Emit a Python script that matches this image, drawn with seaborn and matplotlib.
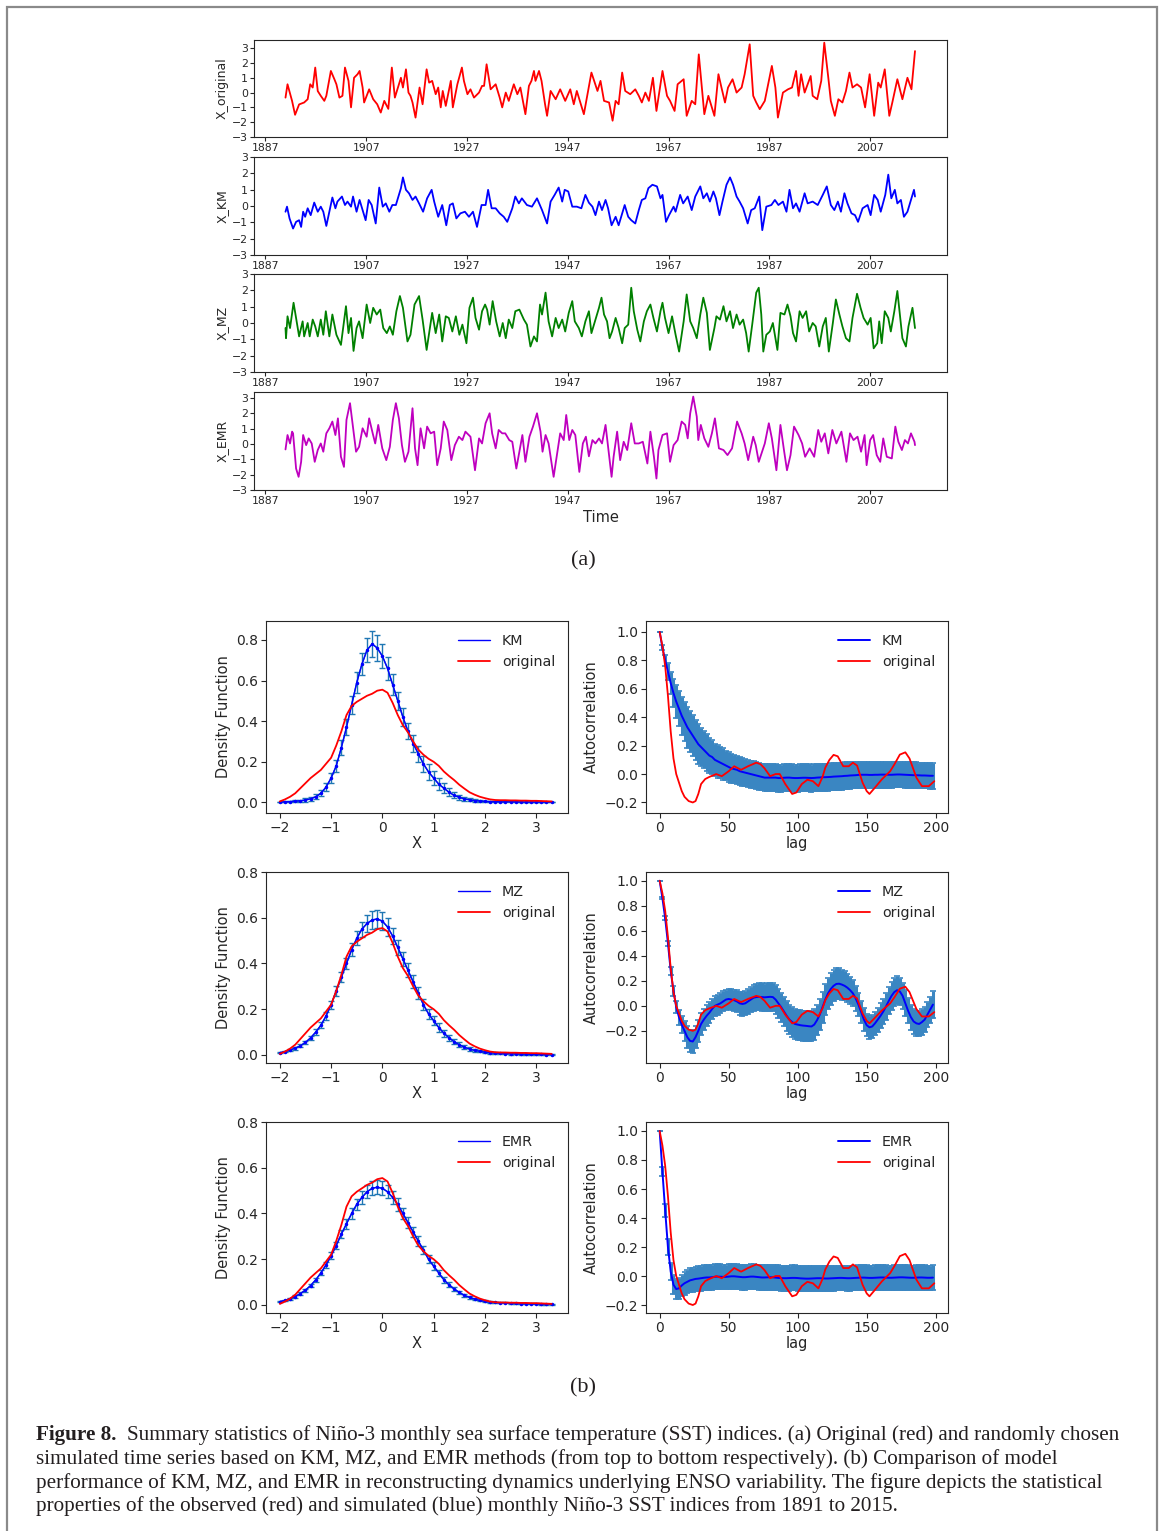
import matplotlib
matplotlib.use("Agg")
import matplotlib.pyplot as plt
from matplotlib.patches import Rectangle
import seaborn as sns

# ---------------------------------------------------------------
# (a) time series (year, value) vertices
# ---------------------------------------------------------------
orig_t = [1891.0, 1891.4, 1892.3, 1892.9, 1893.7, 1894.7, 1895.4, 1895.9, 1896.4, 1896.9,
          1897.4, 1898.0, 1898.7, 1899.1, 1900.0, 1900.7, 1901.1, 1901.7, 1902.3, 1902.8,
          1903.5, 1904.0, 1904.6, 1905.3, 1905.7, 1906.3, 1906.6, 1907.6, 1908.4, 1909.2,
          1909.9, 1910.6, 1911.4, 1912.1, 1912.7, 1913.9, 1914.3, 1914.9, 1915.4, 1915.8,
          1916.2, 1916.8, 1917.6, 1918.2, 1919.0, 1919.5, 1920.1, 1920.8, 1921.3, 1921.8,
          1922.2, 1922.8, 1923.8, 1924.2, 1925.1, 1926.0, 1926.4, 1927.1, 1927.7, 1928.4,
          1929.4, 1930.0, 1930.4, 1930.9, 1931.7, 1932.7, 1933.5, 1934.0, 1934.7, 1935.3,
          1936.3, 1937.0, 1937.6, 1938.6, 1939.3, 1939.8, 1940.3, 1940.6, 1941.3, 1941.8,
          1942.5, 1942.9, 1943.6, 1944.6, 1945.5, 1946.5, 1947.5, 1948.2, 1948.8, 1950.2,
          1951.7, 1952.9, 1953.5, 1954.2, 1955.2, 1955.9, 1956.5, 1957.1, 1957.8, 1958.4,
          1959.4, 1960.4, 1961.1, 1961.7, 1962.4, 1963.1, 1963.9, 1964.6, 1965.8, 1966.7,
          1967.3, 1968.2, 1968.8, 1970.0, 1970.6, 1971.6, 1972.3, 1973.0, 1973.6, 1974.1,
          1974.9, 1976.1, 1976.9, 1977.5, 1978.2, 1978.8, 1979.7, 1980.5, 1981.5, 1982.1,
          1983.1, 1983.8, 1984.4, 1985.1, 1986.1, 1987.1, 1987.5, 1988.2, 1988.7, 1989.7,
          1990.7, 1991.5, 1992.3, 1992.8, 1993.3, 1994.0, 1995.2, 1995.6, 1996.5, 1997.3,
          1997.9, 1998.7, 1999.2, 2000.0, 2000.7, 2001.5, 2002.2, 2002.9, 2003.5, 2004.4,
          2005.2, 2006.0, 2006.9, 2007.8, 2008.6, 2009.1, 2009.9, 2010.8, 2011.4, 2012.4,
          2013.4, 2014.4, 2015.2, 2015.9]
orig_v = [-0.34, 0.56, -0.56, -1.5, -0.8, -0.67, -0.45, 0.56, 0.34, 1.69,
          0.1, -0.22, -0.56, -0.22, 1.46, 0.9, 0.56, -0.34, -0.22, 1.69,
          0.79, -1.0, 1.0, 1.24, 1.46, 0.34, -0.67, 0.22, -0.45, -0.79,
          -1.35, -0.56, -1.1, 1.69, -0.34, 1.0, 0.34, 1.57, 0.0, -0.22,
          -0.67, -1.69, 0.34, -0.79, 1.57, 0.67, 0.79, -0.11, 0.34, -1.0,
          0.11, -0.9, 0.79, -1.0, 0.56, 1.69, 0.79, -0.11, 0.22, -0.34,
          0.0, 0.45, 0.45, 1.91, 0.22, 0.56, -0.34, -1.0, 0.0, -0.56,
          0.56, -0.11, 0.34, -1.46, 0.45, 0.79, 1.46, 0.79, 1.46, 0.79,
          -0.79, -1.57, 0.11, -0.45, 0.22, -0.56, 0.22, -0.79, 0.11, -1.46,
          1.35, 0.11, 0.79, -0.56, -0.67, -1.9, -0.56, -0.79, 1.35, 0.11,
          -0.11, 0.22, -0.22, -0.67, 0.0, -0.56, 1.0, -1.24, 1.46, -0.22,
          -0.56, -1.24, 0.56, 0.9, -1.57, -0.56, -0.79, 2.58, 0.34, -1.46,
          -0.22, -1.57, 1.24, 0.34, -0.67, 0.34, 0.9, 0.0, 0.34, 1.24,
          3.26, -0.22, -0.67, -1.12, -0.56, 1.12, 1.8, 0.34, -1.69, 0.0,
          0.22, 0.34, 1.46, -0.22, 1.24, 0.0, 1.12, -0.22, -0.45, 0.79,
          3.37, 1.0, -0.56, -1.57, -0.45, -0.67, 0.11, 1.35, 0.34, 0.56,
          0.34, -1.0, 1.24, -1.57, 0.67, 0.34, 1.57, -1.57, -0.67, 0.9,
          -0.45, 1.0, 0.22, 2.8]

km_t = [1891.0, 1891.3, 1891.8, 1892.5, 1893.1, 1893.7, 1894.1, 1894.5, 1894.9, 1895.4,
        1896.0, 1896.7, 1897.4, 1898.0, 1898.5, 1899.1, 1899.7, 1900.3, 1900.9, 1901.3,
        1902.2, 1902.8, 1903.3, 1904.0, 1904.4, 1905.1, 1905.7, 1906.3, 1906.9, 1907.5,
        1908.1, 1908.9, 1909.6, 1910.3, 1910.9, 1911.6, 1912.2, 1912.9, 1913.9, 1914.3,
        1914.9, 1915.5, 1916.2, 1916.8, 1917.5, 1918.3, 1919.1, 1920.0, 1920.5, 1921.3,
        1922.1, 1922.9, 1923.6, 1924.2, 1924.9, 1925.7, 1926.6, 1927.4, 1928.2, 1929.0,
        1929.9, 1930.7, 1931.2, 1931.9, 1932.7, 1933.5, 1934.3, 1935.0, 1936.0, 1936.6,
        1937.3, 1937.9, 1938.9, 1939.9, 1940.9, 1941.9, 1942.9, 1943.6, 1944.4, 1945.2,
        1945.9, 1946.4, 1947.1, 1947.9, 1948.8, 1949.7, 1950.5, 1951.2, 1951.9, 1952.5,
        1953.2, 1953.8, 1954.5, 1955.0, 1955.7, 1956.5, 1957.1, 1958.3, 1959.0, 1959.6,
        1960.4, 1961.1, 1961.7, 1962.4, 1963.0, 1963.8, 1964.7, 1965.4, 1965.8, 1966.5,
        1967.1, 1968.0, 1968.4, 1969.3, 1969.9, 1970.8, 1971.6, 1972.3, 1973.3, 1973.9,
        1974.6, 1975.2, 1975.9, 1976.4, 1977.1, 1977.7, 1978.5, 1979.2, 1979.8, 1980.5,
        1981.1, 1981.8, 1982.7, 1983.4, 1984.1, 1985.0, 1985.6, 1986.4, 1987.4, 1988.1,
        1988.8, 1989.7, 1990.4, 1991.0, 1991.7, 1992.3, 1993.0, 1994.0, 1994.6, 1995.6,
        1996.6, 1997.6, 1998.4, 1999.2, 1999.9, 2000.6, 2001.2, 2001.9, 2002.5, 2003.3,
        2004.0, 2004.6, 2005.5, 2006.5, 2007.1, 2007.8, 2008.5, 2009.1, 2010.0, 2010.6,
        2011.2, 2011.9, 2012.4, 2013.1, 2013.7, 2014.4, 2015.0, 2015.7, 2015.9]
km_v = [-0.35, -0.04, -0.76, -1.38, -0.97, -0.87, -1.28, -0.35, -0.66, -0.14,
        -0.56, 0.21, -0.35, -0.04, -0.35, -1.22, -0.35, 0.52, -0.14, 0.27,
        0.58, 0.06, 0.27, -0.04, 0.58, -0.35, 0.37, -0.25, -0.87, 0.37,
        0.06, -1.07, 1.13, -0.04, 0.16, -0.35, 0.06, 0.06, 1.09, 1.75,
        0.99, 0.78, 0.37, 0.58, 0.16, -0.35, 0.47, 0.99, 0.27, -0.66,
        0.06, -1.18, 0.06, 0.16, -0.76, -0.45, -0.35, -0.66, -0.35, -1.28,
        0.06, 0.06, 0.99, -0.14, -0.14, -0.45, -0.66, -0.97, -0.14, 0.58,
        0.16, 0.47, 0.06, -0.04, 0.47, -0.25, -1.07, 0.27, 0.68, 1.13,
        0.27, 0.99, 0.89, -0.04, -0.04, -0.14, 0.68, 0.2, -0.04, -0.56,
        0.27, -0.25, 0.37, -0.14, -1.18, -0.66, -1.18, 0.06, -0.66, -0.87,
        -1.07, -0.25, 0.37, 0.47, 1.09, 1.3, 1.2, 0.47, 0.68, -0.97,
        -0.56, -0.04, -0.35, 0.68, 0.16, 0.58, -0.25, 0.58, 1.2, 0.47,
        0.78, 0.27, 0.89, 0.47, -0.56, 0.27, 1.3, 1.75, 1.3, 0.58,
        0.27, -0.14, -1.07, -0.25, -0.14, 0.58, -1.48, -0.04, 0.06, 0.37,
        0.06, 0.27, -0.35, 0.99, -0.14, 0.16, -0.35, 0.78, 0.16, 0.27,
        0.06, 0.68, 1.2, 0.06, -0.25, 0.27, -0.35, 0.78, 0.16, -0.45,
        -0.56, -0.97, -0.14, 0.06, -0.56, 0.68, 0.37, -0.35, 0.68, 1.92,
        0.47, 0.99, 0.16, 0.37, -0.66, -0.35, 0.27, 0.99, 0.58]

mz_t = [1891.0, 1891.1, 1891.4, 1891.9, 1892.6, 1893.1, 1893.7, 1894.4, 1894.7, 1895.4,
        1895.8, 1896.4, 1896.9, 1897.4, 1898.0, 1898.5, 1899.0, 1899.7, 1900.3, 1901.1,
        1902.0, 1903.0, 1903.5, 1904.0, 1904.5, 1905.1, 1905.6, 1906.3, 1907.1, 1907.8,
        1908.4, 1909.1, 1909.8, 1910.4, 1911.1, 1911.7, 1912.3, 1913.0, 1913.7, 1914.3,
        1915.2, 1915.8, 1916.6, 1917.5, 1918.2, 1919.0, 1919.6, 1920.1, 1920.8, 1921.5,
        1922.1, 1922.8, 1923.4, 1924.1, 1924.8, 1925.5, 1926.1, 1926.9, 1927.5, 1928.2,
        1928.7, 1929.4, 1930.0, 1930.6, 1931.0, 1931.5, 1932.1, 1932.8, 1933.5, 1934.1,
        1934.7, 1935.3, 1936.0, 1936.6, 1937.4, 1938.3, 1938.9, 1939.6, 1940.3, 1940.9,
        1941.5, 1941.9, 1942.6, 1943.2, 1943.9, 1944.6, 1945.2, 1945.9, 1946.5, 1947.2,
        1947.9, 1948.4, 1949.2, 1949.8, 1950.5, 1951.2, 1951.7, 1952.5, 1953.2, 1953.7,
        1954.2, 1954.8, 1955.3, 1955.8, 1956.5, 1957.1, 1957.8, 1958.3, 1959.0, 1959.6,
        1960.1, 1960.8, 1961.4, 1962.1, 1962.7, 1963.4, 1964.0, 1964.7, 1965.4, 1965.8,
        1966.3, 1967.0, 1967.7, 1968.4, 1969.1, 1970.0, 1970.6, 1971.3, 1971.9, 1972.6,
        1973.3, 1973.9, 1974.6, 1975.2, 1976.1, 1976.5, 1977.2, 1977.9, 1978.5, 1979.2,
        1979.8, 1980.5, 1981.1, 1981.8, 1982.4, 1982.9, 1983.6, 1984.4, 1984.9, 1985.4,
        1985.8, 1986.4, 1987.1, 1987.7, 1988.6, 1989.2, 1990.0, 1990.6, 1991.2, 1991.7,
        1992.3, 1993.0, 1993.6, 1994.3, 1994.9, 1995.6, 1996.2, 1996.9, 1997.6, 1998.2,
        1998.8, 1999.6, 2000.2, 2000.9, 2001.5, 2002.2, 2002.9, 2003.5, 2004.4, 2005.1,
        2005.7, 2006.5, 2007.1, 2007.7, 2008.4, 2008.8, 2009.3, 2009.9, 2010.6, 2011.1,
        2011.8, 2012.4, 2012.9, 2013.4, 2014.1, 2014.6, 2015.4, 2015.9]
mz_v = [-0.31, -0.93, 0.41, -0.31, 1.24, 0.31, -0.82, 0.1, -0.82, 0.0,
        -0.82, 0.21, -0.21, -0.82, 0.21, -0.72, 0.72, -0.82, 0.52, -0.72,
        -1.34, 1.03, -0.62, 0.31, -1.71, -0.31, 0.1, -0.93, 1.13, 0.0,
        0.93, 0.52, 0.82, -0.31, -0.62, -0.21, -0.72, 0.72, 1.65, 0.93,
        -1.13, -0.72, 1.13, 1.65, 0.21, -1.65, -0.41, 0.62, -0.62, 0.52,
        -1.13, 0.41, 0.31, -0.52, 0.41, -0.72, -0.1, -1.24, 0.93, 1.55,
        0.31, -0.41, 0.72, 1.13, 0.82, -0.1, 1.34, 0.1, -0.82, 0.0,
        -0.93, 0.21, -0.31, 0.72, 0.82, 0.21, -0.1, -1.44, -0.82, -1.13,
        1.13, 0.52, 1.86, 0.1, -0.82, 0.31, -0.31, 0.21, -0.52, 0.62,
        1.34, 0.1, -0.31, -0.82, 0.1, 0.72, -0.62, 0.21, 0.93, 1.55,
        0.52, 0.1, -0.93, -0.52, 0.31, -0.31, -1.24, -0.31, -0.1, 2.16,
        0.72, -0.41, -1.13, 0.1, 0.72, 1.13, 0.31, -0.52, 0.72, 1.24,
        0.31, -0.62, 0.41, -0.72, -1.75, 0.1, 1.75, 0.1, -0.31, -0.93,
        0.52, 1.55, 0.62, -1.65, -0.31, 0.41, 0.21, 1.03, 0.1, 0.72,
        -0.31, 0.52, -0.1, 0.21, -0.62, -1.75, -0.1, 1.86, 2.16, 0.52,
        -1.75, -0.72, -0.52, 0.0, -1.65, 0.62, 0.52, 1.13, 0.41, -0.62,
        -1.13, 0.72, 0.31, 0.72, -0.52, 0.0, -0.21, -1.44, -0.21, 0.31,
        -1.75, 0.0, 1.44, 0.52, -0.21, -0.93, -1.13, 0.31, 1.79, 0.93,
        0.31, -0.1, 0.31, -1.55, -1.24, 0.1, -1.24, 0.72, 0.31, -0.52,
        0.72, 1.96, 0.52, -0.93, -1.44, -0.21, 0.93, -0.31]

emr_t = [1891.0, 1891.4, 1891.9, 1892.3, 1892.5, 1893.1, 1893.6, 1894.1, 1894.5, 1895.1,
         1895.6, 1896.2, 1896.8, 1897.4, 1898.0, 1898.5, 1899.1, 1899.7, 1900.3, 1900.9,
         1901.4, 1902.0, 1902.6, 1903.1, 1903.8, 1904.3, 1905.0, 1905.6, 1906.3, 1907.1,
         1907.6, 1908.3, 1908.8, 1909.4, 1910.2, 1911.0, 1911.7, 1912.3, 1912.9, 1913.5,
         1914.1, 1914.7, 1915.4, 1916.2, 1916.7, 1917.2, 1917.8, 1918.5, 1919.1, 1919.8,
         1920.5, 1921.1, 1921.8, 1922.4, 1923.1, 1923.9, 1924.6, 1925.4, 1926.1, 1926.7,
         1927.7, 1928.6, 1929.4, 1930.0, 1930.7, 1931.5, 1932.0, 1932.7, 1933.3, 1934.0,
         1934.6, 1935.4, 1936.0, 1936.8, 1937.4, 1938.0, 1938.6, 1939.4, 1940.1, 1940.9,
         1941.6, 1942.0, 1942.6, 1943.2, 1944.2, 1944.9, 1945.5, 1946.2, 1946.7, 1947.3,
         1947.9, 1948.5, 1949.3, 1950.0, 1950.6, 1951.2, 1951.9, 1952.5, 1953.2, 1953.8,
         1954.5, 1955.0, 1955.7, 1956.1, 1956.8, 1957.4, 1958.1, 1958.8, 1959.6, 1960.3,
         1961.1, 1961.9, 1962.8, 1963.4, 1964.1, 1964.6, 1965.0, 1965.8, 1966.7, 1967.3,
         1968.0, 1968.8, 1969.6, 1970.3, 1970.8, 1971.3, 1971.9, 1972.6, 1972.9, 1973.4,
         1974.1, 1974.9, 1975.6, 1976.2, 1977.0, 1977.9, 1978.7, 1979.6, 1980.6, 1981.5,
         1982.1, 1982.8, 1983.8, 1984.3, 1984.9, 1986.1, 1986.9, 1987.5, 1988.4, 1989.2,
         1989.9, 1990.5, 1991.2, 1991.9, 1992.8, 1993.5, 1994.1, 1995.0, 1995.9, 1996.7,
         1997.3, 1998.0, 1998.7, 1999.5, 2000.3, 2001.3, 2002.3, 2003.0, 2003.7, 2004.5,
         2005.2, 2005.9, 2006.3, 2007.0, 2007.6, 2008.3, 2009.0, 2009.6, 2010.3, 2011.3,
         2012.0, 2012.6, 2013.3, 2013.9, 2014.5, 2015.1, 2015.8, 2015.9]
emr_v = [-0.35, 0.59, 0.04, 0.81, 0.7, -1.6, -2.14, -1.16, 0.59, -0.07,
         0.37, 0.04, -1.16, -0.39, 0.04, -0.5, 0.7, 1.03, 1.47, 0.59,
         1.68, -0.83, -1.49, 1.58, 2.67, 1.36, -0.5, -0.18, 1.03, 0.48,
         1.68, 0.7, 0.04, 1.25, -0.28, -1.05, -0.18, 1.58, 2.67, 1.68,
         -0.07, -1.16, -0.5, 2.34, -0.28, -1.38, 1.03, -0.28, 1.14, 0.7,
         0.81, -1.38, -0.28, 1.47, 0.92, -1.05, -0.07, 0.48, 0.26, 0.81,
         0.48, -1.71, 0.37, 0.04, 1.36, 2.01, 0.7, -0.28, 0.92, 0.7,
         0.7, 0.26, 0.15, -1.6, -0.5, 0.59, -1.16, 0.48, 1.14, 2.01,
         0.81, -0.5, 0.59, 0.04, -2.14, -0.61, 0.7, 0.26, 1.9, 0.26,
         0.92, 0.59, -1.82, 0.04, 0.48, -0.8, 0.26, 0.04, 0.37, 0.04,
         1.25, -0.18, -2.14, -0.83, 0.81, -1.05, 0.15, -0.39, 1.36, 0.04,
         0.04, 0.15, -1.27, 0.81, -0.83, -2.25, -0.39, 0.59, 0.7, -1.16,
         -0.07, 0.26, 1.47, 1.25, 0.37, 2.01, 3.1, 1.79, 0.26, 1.25,
         0.37, -0.18, 0.7, 1.68, -0.28, -0.39, -0.72, -0.28, 1.47, 0.7,
         0.04, -1.05, 0.48, -0.07, -1.16, 0.04, 1.36, 0.37, -1.71, 1.25,
         -0.39, -1.71, -0.72, 1.14, 0.59, 0.04, -0.83, -0.28, -0.83, 0.92,
         0.15, 0.7, -0.61, 0.92, 0.04, 0.81, -1.16, 0.7, 0.26, 0.48,
         -0.5, 0.59, -1.38, 0.26, 0.59, -0.72, -1.16, 0.37, -0.83, -0.94,
         1.14, 0.15, -0.39, 0.26, 0.04, 0.7, 0.15, -0.07]

year_ticks = [1887, 1907, 1927, 1947, 1967, 1987, 2007]
year_labels = ["1887", "1907", "1927", "1947", "1967", "1987", "2007"]

# ---------------------------------------------------------------
# (b) density functions on the X grid
# ---------------------------------------------------------------
dens_x = [-2.0, -1.9, -1.8, -1.7, -1.6, -1.5, -1.4, -1.3, -1.2, -1.1,
          -1.0, -0.9, -0.8, -0.7, -0.6, -0.5, -0.4, -0.3, -0.2, -0.1,
          0.0, 0.1, 0.2, 0.3, 0.4, 0.5, 0.6, 0.7, 0.8, 0.9,
          1.0, 1.1, 1.2, 1.3, 1.4, 1.5, 1.6, 1.7, 1.8, 1.9,
          2.0, 2.1, 2.2, 2.3, 2.4, 2.5, 2.6, 2.7, 2.8, 2.9, 3.0, 3.1, 3.2, 3.3]
dens_orig = [0.005, 0.015, 0.028, 0.045, 0.07, 0.095, 0.12, 0.14, 0.16, 0.19,
             0.22, 0.28, 0.35, 0.43, 0.475, 0.495, 0.51, 0.525, 0.535, 0.55,
             0.555, 0.54, 0.49, 0.43, 0.38, 0.345, 0.30, 0.26, 0.235, 0.215,
             0.2, 0.18, 0.152, 0.13, 0.11, 0.087, 0.068, 0.05, 0.038, 0.028,
             0.021, 0.015, 0.012, 0.011, 0.011, 0.010, 0.010, 0.009, 0.009, 0.008,
             0.008, 0.007, 0.006, 0.005]
dens_km = [0.002, 0.003, 0.004, 0.006, 0.008, 0.012, 0.018, 0.028, 0.045, 0.075,
           0.12, 0.18, 0.27, 0.37, 0.48, 0.59, 0.68, 0.75, 0.78, 0.76,
           0.72, 0.66, 0.58, 0.50, 0.42, 0.35, 0.29, 0.24, 0.19, 0.15,
           0.12, 0.09, 0.07, 0.05, 0.035, 0.025, 0.018, 0.013, 0.009, 0.007,
           0.005, 0.004, 0.004, 0.003, 0.003, 0.003, 0.003, 0.002, 0.002, 0.002,
           0.002, 0.002, 0.002, 0.002]
dens_km_err = [0.002, 0.003, 0.004, 0.005, 0.006, 0.008, 0.01, 0.012, 0.015, 0.02,
               0.025, 0.03, 0.035, 0.04, 0.045, 0.05, 0.055, 0.06, 0.065, 0.065,
               0.06, 0.055, 0.05, 0.045, 0.045, 0.04, 0.04, 0.04, 0.04, 0.04,
               0.035, 0.03, 0.025, 0.02, 0.015, 0.012, 0.01, 0.008, 0.006, 0.005,
               0.004, 0.004, 0.003, 0.003, 0.003, 0.003, 0.002, 0.002, 0.002, 0.002,
               0.002, 0.002, 0.002, 0.002]
dens_mz = [0.01, 0.015, 0.022, 0.03, 0.04, 0.055, 0.075, 0.10, 0.13, 0.17,
           0.22, 0.28, 0.34, 0.40, 0.46, 0.51, 0.55, 0.575, 0.59, 0.595,
           0.585, 0.56, 0.52, 0.47, 0.42, 0.37, 0.32, 0.27, 0.22, 0.18,
           0.15, 0.12, 0.095, 0.075, 0.058, 0.045, 0.034, 0.026, 0.02, 0.016,
           0.012, 0.01, 0.008, 0.007, 0.006, 0.005, 0.005, 0.004, 0.004, 0.003,
           0.003, 0.003, 0.002, 0.002]
dens_mz_err = [0.003, 0.004, 0.005, 0.006, 0.007, 0.008, 0.01, 0.012, 0.014, 0.016,
               0.018, 0.02, 0.022, 0.025, 0.028, 0.03, 0.033, 0.036, 0.038, 0.04,
               0.04, 0.038, 0.036, 0.034, 0.032, 0.03, 0.028, 0.026, 0.024, 0.022,
               0.02, 0.018, 0.016, 0.014, 0.012, 0.01, 0.008, 0.007, 0.006, 0.005,
               0.004, 0.004, 0.003, 0.003, 0.003, 0.003, 0.002, 0.002, 0.002, 0.002,
               0.002, 0.002, 0.002, 0.002]
dens_emr = [0.015, 0.02, 0.028, 0.037, 0.05, 0.065, 0.085, 0.11, 0.14, 0.175,
            0.215, 0.26, 0.31, 0.355, 0.40, 0.44, 0.47, 0.495, 0.51, 0.515,
            0.51, 0.495, 0.47, 0.44, 0.40, 0.36, 0.32, 0.28, 0.24, 0.20,
            0.17, 0.14, 0.11, 0.088, 0.07, 0.055, 0.042, 0.033, 0.026, 0.02,
            0.016, 0.013, 0.011, 0.01, 0.009, 0.008, 0.007, 0.006, 0.006, 0.005,
            0.005, 0.004, 0.004, 0.004]
dens_emr_err = [0.003, 0.003, 0.004, 0.005, 0.006, 0.007, 0.008, 0.01, 0.011, 0.013,
                0.015, 0.017, 0.019, 0.021, 0.023, 0.025, 0.027, 0.028, 0.03, 0.03,
                0.03, 0.029, 0.028, 0.027, 0.026, 0.024, 0.022, 0.021, 0.019, 0.017,
                0.016, 0.014, 0.012, 0.011, 0.009, 0.008, 0.007, 0.006, 0.005, 0.004,
                0.004, 0.003, 0.003, 0.003, 0.002, 0.002, 0.002, 0.002, 0.002, 0.002,
                0.002, 0.002, 0.002, 0.002]

# ---------------------------------------------------------------
# (b) autocorrelation, every second lag
# ---------------------------------------------------------------
acf_lag = list(range(0, 200, 2))
acf_km = [1.00, 0.89, 0.80, 0.72, 0.64, 0.57, 0.51, 0.46, 0.41, 0.37,
          0.33, 0.30, 0.27, 0.24, 0.21, 0.19, 0.17, 0.15, 0.13, 0.12,
          0.10, 0.09, 0.08, 0.07, 0.06, 0.05, 0.04, 0.035, 0.03, 0.02,
          0.015, 0.01, 0.005, 0.0, -0.005, -0.01, -0.015, -0.02, -0.025, -0.025,
          -0.025, -0.025, -0.025, -0.028, -0.028, -0.026, -0.025, -0.025, -0.027, -0.028,
          -0.028, -0.027, -0.026, -0.026, -0.027, -0.028, -0.027, -0.025, -0.024, -0.022,
          -0.022, -0.021, -0.02, -0.018, -0.017, -0.016, -0.015, -0.013, -0.012, -0.01,
          -0.009, -0.008, -0.006, -0.005, -0.005, -0.005, -0.006, -0.006, -0.005, -0.005,
          -0.004, -0.004, -0.004, -0.005, -0.005, -0.004, -0.003, -0.003, -0.004, -0.005,
          -0.006, -0.007, -0.008, -0.008, -0.009, -0.01, -0.01, -0.011, -0.012, -0.012]
acf_km_err = [0.0, 0.02, 0.04, 0.06, 0.08, 0.1, 0.115, 0.125, 0.135, 0.14,
              0.145, 0.145, 0.145, 0.14, 0.14, 0.135, 0.13, 0.13, 0.125, 0.12,
              0.115, 0.115, 0.11, 0.11, 0.105, 0.105, 0.1, 0.1, 0.1, 0.098,
              0.097, 0.096, 0.095, 0.095, 0.094, 0.094, 0.094, 0.094, 0.094, 0.094,
              0.095, 0.095, 0.095, 0.095, 0.095, 0.095, 0.095, 0.095, 0.095, 0.095,
              0.095, 0.095, 0.095, 0.095, 0.095, 0.095, 0.095, 0.095, 0.095, 0.095,
              0.095, 0.095, 0.095, 0.095, 0.095, 0.095, 0.095, 0.095, 0.095, 0.095,
              0.092, 0.092, 0.092, 0.092, 0.092, 0.092, 0.092, 0.092, 0.092, 0.092,
              0.092, 0.092, 0.092, 0.092, 0.092, 0.09, 0.09, 0.09, 0.09, 0.09,
              0.09, 0.09, 0.09, 0.09, 0.09, 0.09, 0.09, 0.09, 0.09, 0.09]
acf_mz = [1.0, 0.86, 0.70, 0.50, 0.28, 0.12, -0.01, -0.09, -0.15, -0.2,
          -0.25, -0.28, -0.285, -0.25, -0.2, -0.145, -0.11, -0.08, -0.055, -0.025,
          0.0, 0.01, 0.02, 0.035, 0.05, 0.055, 0.05, 0.045, 0.035, 0.02,
          0.015, 0.02, 0.035, 0.05, 0.065, 0.07, 0.072, 0.07, 0.068, 0.07,
          0.072, 0.07, 0.05, 0.02, -0.01, -0.045, -0.08, -0.11, -0.13, -0.145,
          -0.15, -0.155, -0.158, -0.16, -0.163, -0.165, -0.15, -0.115, -0.07, -0.01,
          0.05, 0.1, 0.135, 0.16, 0.175, 0.177, 0.17, 0.16, 0.145, 0.125,
          0.1, 0.06, 0.01, -0.05, -0.11, -0.155, -0.172, -0.165, -0.14, -0.11,
          -0.08, -0.045, -0.005, 0.04, 0.08, 0.11, 0.125, 0.115, 0.08, 0.02,
          -0.04, -0.09, -0.125, -0.14, -0.145, -0.13, -0.11, -0.07, -0.03, 0.01]
acf_mz_err = [0.0, 0.008, 0.015, 0.022, 0.03, 0.04, 0.05, 0.06, 0.07, 0.078,
              0.085, 0.088, 0.09, 0.09, 0.09, 0.088, 0.086, 0.085, 0.083, 0.082,
              0.08, 0.08, 0.08, 0.08, 0.08, 0.08, 0.082, 0.085, 0.088, 0.09,
              0.093, 0.096, 0.1, 0.102, 0.105, 0.107, 0.108, 0.11, 0.11, 0.112,
              0.113, 0.114, 0.115, 0.115, 0.116, 0.117, 0.118, 0.118, 0.119, 0.12,
              0.12, 0.12, 0.12, 0.12, 0.12, 0.12, 0.121, 0.122, 0.123, 0.124,
              0.125, 0.125, 0.125, 0.125, 0.124, 0.122, 0.12, 0.117, 0.113, 0.108,
              0.103, 0.098, 0.094, 0.091, 0.09, 0.09, 0.09, 0.091, 0.093, 0.096,
              0.1, 0.103, 0.106, 0.108, 0.11, 0.11, 0.11, 0.108, 0.105, 0.103,
              0.1, 0.1, 0.1, 0.1, 0.1, 0.101, 0.102, 0.103, 0.104, 0.105]
acf_emr = [1.0, 0.72, 0.45, 0.2, 0.03, -0.06, -0.09, -0.085, -0.065, -0.05,
           -0.04, -0.03, -0.025, -0.02, -0.018, -0.015, -0.012, -0.01, -0.01, -0.008,
           -0.005, -0.004, -0.005, -0.006, -0.006, -0.004, -0.002, -0.002, -0.004, -0.006,
           -0.008, -0.008, -0.006, -0.004, -0.004, -0.006, -0.008, -0.01, -0.01, -0.009,
           -0.008, -0.009, -0.011, -0.013, -0.014, -0.015, -0.015, -0.014, -0.013, -0.013,
           -0.014, -0.016, -0.017, -0.018, -0.018, -0.017, -0.016, -0.015, -0.015, -0.016,
           -0.017, -0.017, -0.016, -0.015, -0.014, -0.013, -0.013, -0.014, -0.015, -0.015,
           -0.014, -0.013, -0.012, -0.011, -0.011, -0.012, -0.013, -0.013, -0.012, -0.011,
           -0.01, -0.01, -0.011, -0.012, -0.012, -0.011, -0.01, -0.009, -0.009, -0.01,
           -0.011, -0.012, -0.012, -0.011, -0.01, -0.01, -0.011, -0.012, -0.012, -0.011]
acf_emr_err = [0.0, 0.03, 0.045, 0.055, 0.06, 0.065, 0.07, 0.072, 0.075, 0.078,
               0.08, 0.082, 0.083, 0.084, 0.085, 0.085, 0.085, 0.085, 0.085, 0.085,
               0.085, 0.085, 0.085, 0.085, 0.085, 0.085, 0.085, 0.085, 0.085, 0.085,
               0.085, 0.085, 0.085, 0.085, 0.085, 0.085, 0.085, 0.085, 0.085, 0.085,
               0.086, 0.086, 0.086, 0.086, 0.086, 0.086, 0.086, 0.086, 0.086, 0.086,
               0.086, 0.086, 0.086, 0.086, 0.086, 0.086, 0.086, 0.086, 0.086, 0.086,
               0.085, 0.085, 0.085, 0.085, 0.085, 0.085, 0.085, 0.085, 0.085, 0.085,
               0.085, 0.085, 0.085, 0.085, 0.085, 0.085, 0.085, 0.085, 0.085, 0.085,
               0.084, 0.084, 0.084, 0.084, 0.084, 0.084, 0.084, 0.084, 0.084, 0.084,
               0.084, 0.084, 0.084, 0.084, 0.084, 0.084, 0.084, 0.084, 0.084, 0.084]
orig_acf_lag = [0, 2, 4, 6, 8, 10, 12, 14, 16, 18, 21, 24, 26, 28, 30, 33, 36, 41, 45, 50,
                54, 59, 64, 70, 73, 76, 80, 84, 87, 91, 96, 99, 103, 107, 111, 115, 118, 120,
                123, 126, 129, 133, 137, 140, 143, 147, 150, 152, 156, 161, 167, 170, 174,
                178, 181, 186, 190, 195, 199]
orig_acf = [1.0, 0.9, 0.76, 0.55, 0.3, 0.11, 0.0, -0.06, -0.12, -0.16, -0.19, -0.2, -0.19,
            -0.14, -0.07, -0.035, -0.02, 0.0, -0.015, 0.02, 0.055, 0.03, 0.055, 0.08, 0.07,
            0.04, -0.015, 0.0, 0.0, -0.07, -0.14, -0.13, -0.07, -0.04, -0.05, -0.085, -0.02,
            0.045, 0.1, 0.135, 0.125, 0.055, 0.055, 0.08, 0.06, -0.06, -0.12, -0.14, -0.095,
            -0.037, 0.02, 0.067, 0.137, 0.153, 0.11, -0.025, -0.085, -0.085, -0.05]

models = ["KM", "MZ", "EMR"]
caption = [
    "simulated time series based on KM, MZ, and EMR methods (from top to bottom respectively). (b) Comparison of model",
    "performance of KM, MZ, and EMR in reconstructing dynamics underlying ENSO variability. The figure depicts the statistical",
    "properties of the observed (red) and simulated (blue) monthly Niño-3 SST indices from 1891 to 2015.",
]

# ---------------------------------------------------------------
sns.set_style("ticks")
plt.rcParams["font.family"] = ["DejaVu Sans"]
serif = ["Liberation Serif", "DejaVu Serif"]

W, H = 1165, 1531
fig = plt.figure(figsize=(W / 100, H / 100), dpi=100)


def box(x0, y0, x1, y1):
    return fig.add_axes([x0 / W, 1 - y1 / H, (x1 - x0) / W, (y1 - y0) / H])


# (a) four time series
series = [(orig_t, orig_v, "red", "X_original", 3.55),
          (km_t, km_v, "blue", "X_KM", 3.0),
          (mz_t, mz_v, "green", "X_MZ", 3.0),
          (emr_t, emr_v, "m", "X_EMR", 3.4)]
rows_a = [(40, 137), (157, 255), (274, 372), (392, 490)]
for (t, v, c, lab, ytop), (y0, y1) in zip(series, rows_a):
    ax = box(254, y0, 947, y1)
    sns.lineplot(x=t, y=v, color=c, lw=1.3, estimator=None, ax=ax)
    ax.set_xlim(1884.75, 2022.25)
    ax.set_ylim(-3, ytop)
    ax.set_xticks(year_ticks)
    ax.set_xticklabels(year_labels)
    ax.set_yticks([-3, -2, -1, 0, 1, 2, 3])
    ax.tick_params(labelsize=7.8, length=3, pad=1.5, width=0.8)
    ax.set_ylabel(lab, fontsize=9, labelpad=2)
    ax.set_xlabel("")
ax.set_xlabel("Time", fontsize=10.5, labelpad=3)

# (b) density and autocorrelation
rows_b = [(621, 813), (872, 1063), (1122, 1313)]
dens_mean = [dens_km, dens_mz, dens_emr]
dens_err = [dens_km_err, dens_mz_err, dens_emr_err]
dens_ylim = [(-0.052, 0.893), (-0.035, 0.8), (-0.035, 0.8)]
acf_mean = [acf_km, acf_mz, acf_emr]
acf_err = [acf_km_err, acf_mz_err, acf_emr_err]
acf_ylim = [(-0.274, 1.077), (-0.457, 1.07), (-0.255, 1.062)]

for i, (y0, y1) in enumerate(rows_b):
    # density
    ax = box(266, y0, 568, y1)
    sns.lineplot(x=dens_x, y=dens_mean[i], color="blue", lw=1.0, label=models[i], ax=ax, zorder=3)
    ax.errorbar(dens_x, dens_mean[i], yerr=dens_err[i], fmt=".-", color="#1f77b4",
                mfc="blue", mec="blue", ms=3, lw=1.0, elinewidth=1.0, capsize=2.2, zorder=2)
    sns.lineplot(x=dens_x, y=dens_orig, color="red", lw=1.3, label="original", ax=ax, zorder=4)
    ax.set_xlim(-2.27, 3.62)
    ax.set_ylim(*dens_ylim[i])
    ax.set_xticks([-2, -1, 0, 1, 2, 3])
    ax.set_yticks([0.0, 0.2, 0.4, 0.6, 0.8])
    ax.tick_params(labelsize=10, length=3.5, pad=2)
    ax.set_xlabel("X", fontsize=10.5, labelpad=1)
    ax.set_ylabel("Density Function", fontsize=10.5, labelpad=4)
    ax.legend(frameon=False, loc="upper right", fontsize=10.3, handlelength=2.3)

    # autocorrelation
    ax = box(646, y0, 948, y1)
    sns.lineplot(x=acf_lag, y=acf_mean[i], color="blue", lw=1.4, label=models[i], ax=ax, zorder=3)
    ax.errorbar(acf_lag, acf_mean[i], yerr=acf_err[i], fmt="none", ecolor="#3a86c2",
                elinewidth=2.2, capsize=2, capthick=1.2, zorder=2)
    sns.lineplot(x=orig_acf_lag, y=orig_acf, color="red", lw=1.3, label="original", ax=ax, zorder=4)
    ax.set_xlim(-9.9, 208.9)
    ax.set_ylim(*acf_ylim[i])
    ax.set_xticks([0, 50, 100, 150, 200])
    ax.set_yticks([-0.2, 0.0, 0.2, 0.4, 0.6, 0.8, 1.0])
    ax.tick_params(labelsize=10, length=3.5, pad=2)
    ax.set_xlabel("lag", fontsize=10.5, labelpad=1)
    ax.set_ylabel("Autocorrelation", fontsize=10.5, labelpad=4)
    ax.legend(frameon=False, loc="upper right", fontsize=10.3, handlelength=2.3)

# panel tags and caption
fig.text(583 / W, 1 - 561 / H, "(a)", ha="center", va="center", family=serif, fontsize=16, color="#231f20")
fig.text(583 / W, 1 - 1388 / H, "(b)", ha="center", va="center", family=serif, fontsize=16, color="#231f20")
fig.text(36 / W, 1 - 1435 / H, "Figure 8.", ha="left", va="center", family=serif,
         fontsize=15.2, fontweight="bold", color="#231f20")
fig.text(127 / W, 1 - 1435 / H,
         "Summary statistics of Niño-3 monthly sea surface temperature (SST) indices. (a) Original (red) and randomly chosen",
         ha="left", va="center", family=serif, fontsize=15.2, color="#231f20")
for k, line in enumerate(caption):
    fig.text(36 / W, 1 - (1459 + 23.7 * k) / H, line, ha="left", va="center",
             family=serif, fontsize=15.2, color="#231f20")

fig.add_artist(Rectangle((7 / W, -0.01), 1150 / W, 1.01 - 7 / H, transform=fig.transFigure,
                         fill=False, edgecolor="#8a8a8a", lw=1.6))

fig.savefig("out.png", dpi=100, facecolor="white")
